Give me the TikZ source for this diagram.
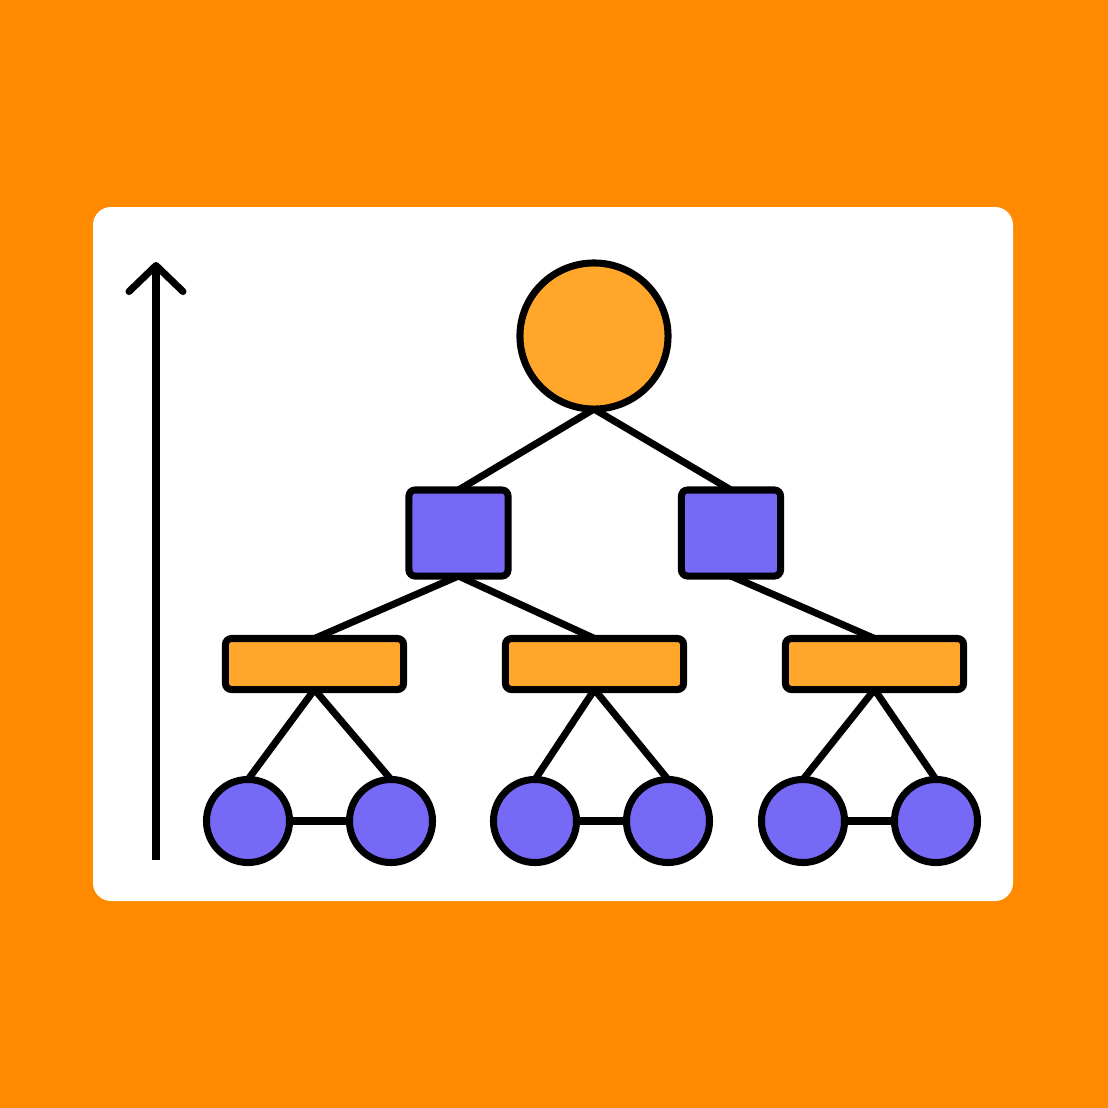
\documentclass[tikz,border=0pt]{standalone}
\usetikzlibrary{shapes.geometric,arrows.meta}
\definecolor{fond}{HTML}{FF8A00}
\definecolor{orangeclair}{HTML}{FFA62B}
\definecolor{mauve}{HTML}{7569F5}
\pgfdeclarelayer{arriere}
\pgfsetlayers{arriere,main}
\tikzstyle{racine}=[
  draw=black,
  ellipse,
  line width=2pt,
  fill=orangeclair,
  minimum width=1.48cm,
  minimum height=1.46cm,
  inner sep=0pt,
  outer sep=0pt
]
\tikzstyle{service}=[
  draw=black,
  rounded corners=.4ex,
  line width=2pt,
  fill=mauve,
  minimum width=.99cm,
  minimum height=.86cm,
  inner sep=0pt,
  outer sep=0pt
]
\tikzstyle{equipe}=[
  draw=black,
  rounded corners=.4ex,
  line width=2pt,
  fill=orangeclair,
  minimum width=1.78cm,
  minimum height=.51cm,
  inner sep=0pt,
  outer sep=0pt
]
\tikzstyle{membre}=[
  draw=black,
  circle,
  line width=2pt,
  fill=mauve,
  minimum size=.83cm,
  inner sep=0pt,
  outer sep=0pt
]
\tikzstyle{lien}=[draw=black,line width=2pt]
\begin{document}
\begin{tikzpicture}[x=0.01cm,y=-0.01cm]
    % hierarchie
    \node[racine] (chef) at (594,336) {};
    \node[service] (serviceg) at (458.5,533) {};
    \node[service] (serviced) at (731,533) {};
    \node[equipe] (equipea) at (314.5,664) {};
    \node[equipe] (equipeb) at (594.5,664) {};
    \node[equipe] (equipec) at (874.5,664) {};
    \node[membre] (membrea1) at (248,821) {};
    \node[membre] (membrea2) at (391,821) {};
    \node[membre] (membreb1) at (535,821) {};
    \node[membre] (membreb2) at (668,821) {};
    \node[membre] (membrec1) at (803,821) {};
    \node[membre] (membrec2) at (936,821) {};
    \begin{pgfonlayer}{arriere}
    \fill[fond] (0,0) rectangle (1108,1108);
    \fill[white,rounded corners=.18cm] (93,207) rectangle (1013,901);
    \draw[lien] (chef.south) -- (serviceg.north);
    \draw[lien] (chef.south) -- (serviced.north);
    \draw[lien] (serviceg.south) -- (equipea.north);
    \draw[lien] (serviceg.south) -- (equipeb.north);
    \draw[lien] (serviced.south) -- (equipec.north);
    \draw[lien] (equipea.south) -- (membrea1.north);
    \draw[lien] (equipea.south) -- (membrea2.north);
    \draw[lien] (equipeb.south) -- (membreb1.north);
    \draw[lien] (equipeb.south) -- (membreb2.north);
    \draw[lien] (equipec.south) -- (membrec1.north);
    \draw[lien] (equipec.south) -- (membrec2.north);
    \draw[lien] (membrea1.east) -- (membrea2.west);
    \draw[lien] (membreb1.east) -- (membreb2.west);
    \draw[lien] (membrec1.east) -- (membrec2.west);
    \end{pgfonlayer}
    % axe
    \coordinate (axebas) at (156,860);
    \coordinate (axehaut) at (156,262);
    \draw[lien,-{Straight Barb[length=.26cm,width=.54cm,round]}] (axebas) -- (axehaut);
\end{tikzpicture}
\end{document}
